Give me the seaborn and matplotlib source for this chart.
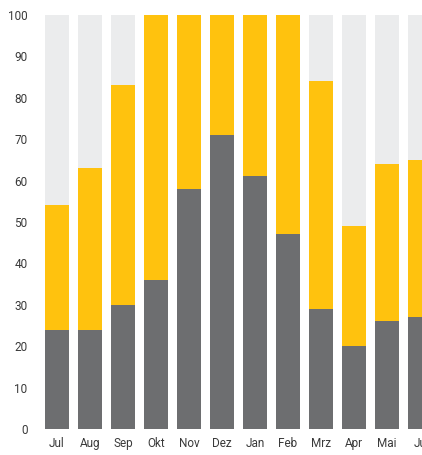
import matplotlib
matplotlib.use("Agg")
import matplotlib.pyplot as plt
import seaborn as sns
import pandas as pd

months = ["Jul", "Aug", "Sep", "Okt", "Nov", "Dez", "Jan", "Feb", "Mrz", "Apr", "Mai", "Ju"]
grey_vals = [24, 24, 30, 36, 58, 71, 61, 47, 29, 20, 26, 27]
yellow_top = [54, 63, 83, 100, 100, 100, 100, 100, 84, 49, 64, 65]
total = [100] * len(months)
yticks = list(range(0, 101, 10))

df = pd.DataFrame({"month": months, "grey": grey_vals, "top": yellow_top, "total": total})

sns.set_style("white")
plt.rcParams["font.family"] = ["Roboto", "DejaVu Sans"]

fig = plt.figure(figsize=(4.22, 4.55), dpi=100)
ax = fig.add_axes([40 / 422, 26 / 455, 382 / 422, 414 / 455])

w = 0.73
sns.barplot(data=df, x="month", y="total", color="#ebeced", width=w, ax=ax, saturation=1, order=months, linewidth=0)
sns.barplot(data=df, x="month", y="top", color="#ffc20e", width=w, ax=ax, saturation=1, order=months, linewidth=0)
sns.barplot(data=df, x="month", y="grey", color="#6d6e70", width=w, ax=ax, saturation=1, order=months, linewidth=0)

ax.set_xlim(-0.515, 11.06)
ax.set_ylim(0, 100)
ax.set_yticks(yticks)
ax.set_yticklabels([str(t) for t in yticks])
ax.set_xlabel("")
ax.set_ylabel("")
for s in ax.spines.values():
    s.set_visible(False)
ax.tick_params(axis="both", length=0, labelsize=8.5, labelcolor="#3a3a3a")
ax.tick_params(axis="y", pad=9)
ax.tick_params(axis="x", pad=6)
ax.grid(False)

fig.savefig("out.png", dpi=100)
